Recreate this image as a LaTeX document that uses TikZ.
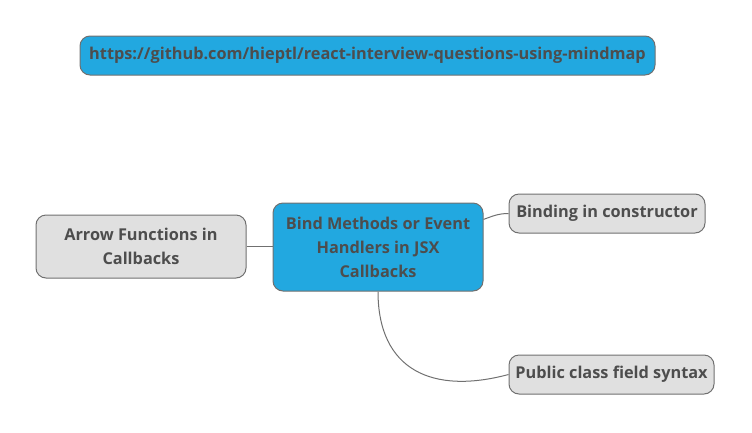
\documentclass[tikz,border=0pt]{standalone}
\usepackage{fontspec}
\setmainfont{Open Sans}
\usepackage{tikz}
\usetikzlibrary{positioning}
\usetikzlibrary{calc}
\definecolor{mapblue}{HTML}{22A8E0}
\definecolor{mapgray}{HTML}{E0E0E0}
\definecolor{mapline}{HTML}{707070}
\definecolor{maptext}{HTML}{4D4D4D}

\begin{document}
\begin{tikzpicture}[x=1pt,y=-1pt,thick,
                    main node/.style={rectangle,rounded corners=10pt,draw=mapline,line width=1pt,
                            font=\bfseries\fontsize{16.3}{24}\selectfont,text=maptext,
                            align=center,inner sep=0pt},
                    blue node/.style={main node,fill=mapblue},
                    gray node/.style={main node,fill=mapgray}]

                \useasboundingbox (0,0) rectangle (752,432);
                \node[blue node,minimum width=575pt,minimum height=39pt] (url) at (367.5,55.5) {https://github.com/hieptl/react-interview-questions-using-mindmap};
                \node[blue node,minimum width=210pt,minimum height=88pt] (bind) at (378,247) {Bind Methods or Event\\Handlers in JSX\\Callbacks};
                \node[gray node,minimum width=210pt,minimum height=63pt] (arrow) at (141,246.5) {Arrow Functions in\\Callbacks};
                \node[gray node,minimum width=196pt,minimum height=39pt] (ctor) at (607,213.5) {Binding in constructor};
                \node[gray node,minimum width=205pt,minimum height=39pt] (field) at (611.5,374.5) {Public class field syntax};

                \path[draw=mapline,line width=1pt]
                (arrow.east) edge [] (arrow.east -| bind.west)
                ($(bind.north east)!0.19!(bind.south east)$) edge [out=20,in=180] (ctor.west)
                (bind.south) edge [out=-90,in=195,looseness=1.3] (field.west)
                ;
            \end{tikzpicture}
\end{document}
